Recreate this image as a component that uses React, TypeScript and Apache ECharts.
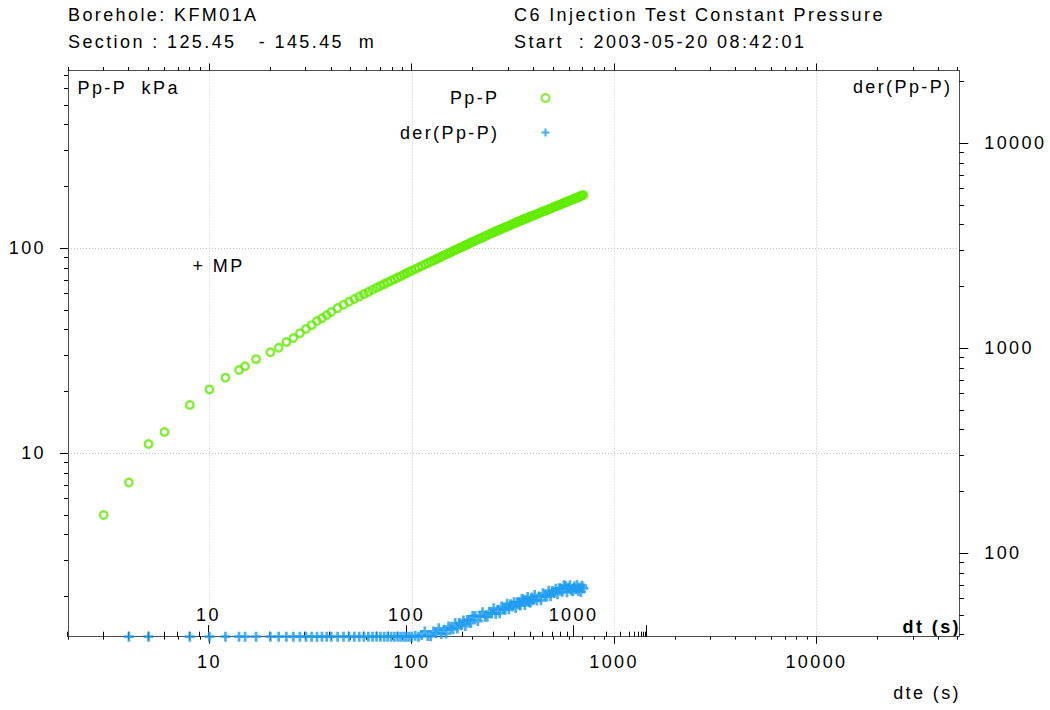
import React, { useEffect, useRef } from 'react';
import * as echarts from 'echarts';

const FONT = '"Liberation Sans", Arial, Helvetica, sans-serif';
const GREEN = '#62EC00';
const BLUE = '#1E9BF0';
const AXIS = '#505050';

// axis ranges
const X_MIN = 2;
const X_MAX = 50800;
const Y_MIN = 1.275;
const Y_MAX = 736.8;
const Y2_MIN = 39.2;
const Y2_MAX = 22660;
// production time used to map dt onto the dte axis
const TP = 1690;

// header texts
const headerLeft = ['Borehole: KFM01A', 'Section : 125.45   - 145.45  m'];
const headerRight = ['C6 Injection Test Constant Pressure', 'Start  : 2003-05-20 08:42:01'];

// Pp-P (kPa) versus dte (s)
const ppDte = [
  3, 4, 5, 6, 8, 10, 12, 14, 15, 17, 20, 22, 24, 26, 28, 30, 32, 34, 36, 38,
  40, 43, 46, 49, 52, 55, 58, 61, 64, 67, 70, 73, 76, 79, 82, 85, 88, 91, 94, 97, 100,
  104, 108, 112, 116, 120, 124, 128, 132, 136, 140, 144, 148, 152, 156, 160, 164, 168, 172, 176, 180, 184, 188, 192, 196, 200,
  206, 212, 218, 224, 230, 236, 242, 248, 254, 260, 266, 272, 278, 284, 290, 296, 302, 308, 314, 320, 326, 332, 338, 344, 350, 356, 362, 368, 374, 380, 386, 392, 398,
  405, 415, 425, 435, 445, 455, 465, 475, 485, 495, 505, 515, 525, 535, 545, 555, 565, 575, 585, 595, 605, 615, 625, 635, 645, 655, 665, 675, 685, 695, 705,
];
const ppVal = [
  5.0, 7.2, 11.1, 12.7, 17.2, 20.5, 23.4, 25.5, 26.6, 28.8, 31.1, 32.7, 34.9, 36.5, 38.5, 40.4, 42.2, 44.2, 45.6, 47.3,
  48.9, 51.1, 53.1, 54.9, 56.6, 58.2, 59.8, 61.3, 62.8, 64.2, 65.6, 66.9, 68.2, 69.5, 70.7, 71.9, 73.1, 74.3, 75.5, 76.6, 77.7,
  79.2, 80.6, 82.0, 83.4, 84.7, 86.0, 87.3, 88.6, 89.8, 91.1, 92.3, 93.5, 94.6, 95.8, 97.0, 98.1, 99.2, 100.3, 101.3, 102.4, 103.4, 104.5, 105.5, 106.5, 107.5,
  109.0, 110.4, 111.8, 113.2, 114.6, 115.9, 117.2, 118.4, 119.7, 120.9, 122.1, 123.3, 124.4, 125.6, 126.7, 127.8, 128.9, 130.0, 131.1, 132.2, 133.2, 134.3, 135.3, 136.3, 137.3, 138.2, 139.2, 140.1, 141.0, 141.9, 142.8, 143.7, 144.5,
  145.5, 146.9, 148.4, 149.8, 151.1, 152.5, 153.8, 155.1, 156.4, 157.7, 159.0, 160.3, 161.5, 162.8, 164.0, 165.2, 166.4, 167.6, 168.8, 169.9, 171.1, 172.2, 173.3, 174.4, 175.6, 176.7, 177.7, 178.8, 179.9, 181.0, 182.0,
];

// der(Pp-P) versus dte (s), right axis
const derDte = [
  4, 5, 8, 10, 12, 14, 15, 17, 20, 22, 24, 26, 28, 30, 32, 34, 36, 38,
  40, 43, 46, 49, 52, 55, 58, 61, 64, 67, 70, 73, 76, 79, 82, 85, 88, 91, 94, 97, 100,
  104, 108, 112, 116, 120, 124, 128, 132, 136, 140, 144, 148, 152, 156, 160, 164, 168, 172, 176, 180, 184, 188, 192, 196, 200,
  206, 212, 218, 224, 230, 236, 242, 248, 254, 260, 266, 272, 278, 284, 290, 296, 302, 308, 314, 320, 326, 332, 338, 344, 350, 356, 362, 368, 374, 380, 386, 392, 398,
  405, 415, 425, 435, 445, 455, 465, 475, 485, 495, 505, 515, 525, 535, 545, 555, 565, 575, 585, 595, 605, 615, 625, 635, 645, 655, 665, 675, 685, 695, 705,
];
const derVal = [
  39.2, 39.2, 39.2, 39.2, 39.2, 39.2, 39.2, 39.2, 39.2, 39.2, 39.2, 39.2, 39.2, 39.2, 39.2, 39.2, 39.2, 39.2,
  39.2, 39.2, 39.2, 39.2, 39.2, 39.2, 39.2, 39.2, 39.2, 39.2, 39.2, 39.2, 39.2, 39.2, 39.2, 39.2, 39.2, 39.2, 39.2, 39.2, 39.2,
  39.6, 39.2, 40.0, 41.6, 39.5, 39.4, 41.6, 40.7, 43.1, 40.4, 42.4, 40.6, 43.9, 43.0, 42.6, 45.7, 43.0, 45.7, 44.7, 47.0, 44.2, 47.3, 47.2, 45.7, 49.4,
  49.5, 46.7, 49.6, 51.6, 49.1, 49.0, 51.9, 50.9, 53.9, 50.6, 53.1, 51.0, 55.0, 53.8, 53.1, 56.8, 53.4, 56.5, 55.1, 57.8, 54.1, 57.8, 57.6, 55.6, 59.9, 59.6, 55.9, 59.1, 61.2, 57.8, 57.5, 60.8, 59.2,
  62.6, 58.8, 61.6, 59.0, 63.8, 62.3, 61.4, 65.7, 61.8, 65.5, 64.1, 67.2, 63.1, 67.5, 67.4, 65.0, 69.8, 69.2, 64.5, 68.0, 69.9, 66.0, 65.4, 68.8, 66.8, 70.0, 65.5, 68.2, 64.8, 69.5, 67.5,
];

// tick values
const dteTicks = [2, 3, 4, 5, 6, 7, 8, 9, 10, 20, 30, 40, 50, 60, 70, 80, 90, 100, 200, 300, 400, 500, 600, 700, 800, 900,
  1000, 2000, 3000, 4000, 5000, 6000, 7000, 8000, 9000, 10000, 20000, 30000, 40000, 50000];
const dtTicks = [2, 3, 4, 5, 6, 7, 8, 9, 10, 20, 30, 40, 50, 60, 70, 80, 90, 100, 200, 300, 400, 500, 600, 700, 800, 900,
  1000, 2000, 3000, 4000, 5000, 6000, 7000, 8000, 9000, 10000];
const dtLabels = [10, 100, 1000];
const leftTicks = [2, 3, 4, 5, 6, 7, 8, 9, 10, 20, 30, 40, 50, 60, 70, 80, 90, 100, 200, 300, 400, 500, 600, 700];
const rightTicks = [40, 50, 60, 70, 80, 90, 100, 200, 300, 400, 500, 600, 700, 800, 900, 1000,
  2000, 3000, 4000, 5000, 6000, 7000, 8000, 9000, 10000, 20000];

const isMajor = (v: number) => {
  const l = Math.log10(v);
  return Math.abs(l - Math.round(l)) < 1e-6;
};
const crisp = (p: number) => Math.round(p - 0.5) + 0.5;
const TICK_STYLE = { stroke: '#000', lineWidth: 1 };

const PLUS = 'path://M2.9,0H5.1V2.9H8V5.1H5.1V8H2.9V5.1H0V2.9H2.9Z';

function buildOption(): any {
  const ppData = ppDte.map((d, i) => [d, ppVal[i]]).filter((p) => p[1] != null);
  const derData = derDte.map((d, i) => [d, derVal[i]]).filter((p) => p[1] != null);

  const txt = (text: string, x: number, y: number, align = 'left', extra: any = {}) => ({
    type: 'text',
    x,
    y,
    silent: true,
    style: {
      text,
      fill: '#000',
      font: `${extra.bold ? 'bold ' : ''}18px ${FONT}`,
      align,
      textAlign: align,
      verticalAlign: 'middle',
      textVerticalAlign: 'middle',
    },
  });

  const logAxisBase = {
    type: 'log',
    logBase: 10,
    axisTick: { show: false },
    minorTick: { show: false },
    minorSplitLine: { show: false },
  };

  const labelStyle = {
    show: true,
    fontSize: 18,
    color: '#000',
    fontFamily: FONT,
    showMinLabel: false,
    showMaxLabel: false,
    formatter: (v: number) => String(Math.round(v)),
  };

  return {
    animation: false,
    backgroundColor: '#fff',
    textStyle: { fontFamily: FONT },
    grid: {
      left: 68,
      top: 70.5,
      width: 891.3,
      height: 566.2,
      containLabel: false,
      outerBoundsMode: 'none',
    },
    legend: {
      orient: 'vertical',
      align: 'right',
      right: 499.5,
      top: 89,
      padding: 0,
      itemGap: 16.5,
      itemWidth: 82,
      itemHeight: 8,
      selectedMode: false,
      data: ['Pp-P', 'der(Pp-P)'],
      textStyle: { fontSize: 18, color: '#000', fontFamily: FONT },
    },
    xAxis: [
      {
        ...logAxisBase,
        min: X_MIN,
        max: X_MAX,
        position: 'bottom',
        axisLine: { show: true, onZero: false, lineStyle: { color: AXIS, width: 1 } },
        axisLabel: { ...labelStyle, margin: 16 },
        splitLine: {
          show: true,
          showMinLine: false,
          showMaxLine: false,
          lineStyle: { color: '#c4c4c4', width: 1, type: [1, 2] },
        },
      },
      {
        ...logAxisBase,
        min: X_MIN,
        max: X_MAX,
        position: 'top',
        axisLine: { show: true, onZero: false, lineStyle: { color: AXIS, width: 1 } },
        axisLabel: { show: false },
        splitLine: { show: false },
      },
    ],
    yAxis: [
      {
        ...logAxisBase,
        min: Y_MIN,
        max: Y_MAX,
        position: 'left',
        axisLine: { show: true, onZero: false, lineStyle: { color: AXIS, width: 1 } },
        axisLabel: { ...labelStyle, margin: 22 },
        splitLine: {
          show: true,
          showMinLine: false,
          showMaxLine: false,
          lineStyle: { color: '#c4c4c4', width: 1, type: [1, 2] },
        },
      },
      {
        ...logAxisBase,
        min: Y2_MIN,
        max: Y2_MAX,
        position: 'right',
        axisLine: { show: true, onZero: false, lineStyle: { color: AXIS, width: 1 } },
        axisLabel: { ...labelStyle, margin: 25 },
        splitLine: { show: false },
      },
    ],
    graphic: [
      txt(headerLeft[0], 68, 15),
      txt(headerLeft[1], 68, 41.5),
      txt(headerRight[0], 514, 15),
      txt(headerRight[1], 514, 41.5),
      txt('Pp-P  kPa', 77.5, 88),
      txt('der(Pp-P)', 952.5, 87, 'right'),
      txt('+ MP', 192.5, 265.5),
      txt('dt (s)', 961, 626.5, 'right', { bold: true }),
      txt('dte (s)', 961, 693, 'right'),
    ],
    series: [
      // bottom dte ticks (outward)
      {
        type: 'custom',
        name: 'dteBottomTicks',
        xAxisIndex: 0,
        yAxisIndex: 0,
        silent: true,
        clip: false,
        z: 1,
        data: dteTicks.map((v) => [v, 10]),
        renderItem: (params: any, api: any) => {
          const cs = params.coordSys;
          const v = api.value(0);
          const x = crisp(api.coord([v, 10])[0]);
          const b = cs.y + cs.height;
          const len = isMajor(v) ? 7 : 3;
          return { type: 'line', shape: { x1: x, y1: b, x2: x, y2: b + len }, style: TICK_STYLE };
        },
      },
      // top dte ticks (outward)
      {
        type: 'custom',
        name: 'dteTopTicks',
        xAxisIndex: 0,
        yAxisIndex: 0,
        silent: true,
        clip: false,
        z: 1,
        data: dteTicks.map((v) => [v, 10]),
        renderItem: (params: any, api: any) => {
          const cs = params.coordSys;
          const v = api.value(0);
          const x = crisp(api.coord([v, 10])[0]);
          const t = cs.y;
          const len = isMajor(v) ? 7 : 3.5;
          return { type: 'line', shape: { x1: x, y1: t, x2: x, y2: t - len }, style: TICK_STYLE };
        },
      },
      // dt axis ticks (inward) with labels
      {
        type: 'custom',
        name: 'dtTicks',
        xAxisIndex: 0,
        yAxisIndex: 0,
        silent: true,
        clip: false,
        z: 1,
        data: dtTicks.map((v) => [v, 10]),
        renderItem: (params: any, api: any) => {
          const cs = params.coordSys;
          const dt = api.value(0);
          const dte = (dt * TP) / (dt + TP);
          const x = crisp(api.coord([dte, 10])[0]);
          const b = cs.y + cs.height;
          const len = isMajor(dt) ? 11.5 : 5;
          const children: any[] = [
            { type: 'line', shape: { x1: x, y1: b, x2: x, y2: b - len }, style: TICK_STYLE },
          ];
          if (dtLabels.indexOf(Math.round(dt)) >= 0) {
            children.push({
              type: 'text',
              x,
              y: b - 22,
              style: {
                text: String(Math.round(dt)),
                fill: '#000',
                font: `18px ${FONT}`,
                align: 'center',
                verticalAlign: 'middle',
              },
            });
          }
          return { type: 'group', children };
        },
      },
      // left axis ticks (outward)
      {
        type: 'custom',
        name: 'leftTicks',
        xAxisIndex: 0,
        yAxisIndex: 0,
        silent: true,
        clip: false,
        z: 1,
        data: leftTicks.map((v) => [10, v]),
        renderItem: (params: any, api: any) => {
          const cs = params.coordSys;
          const v = api.value(1);
          const y = crisp(api.coord([10, v])[1]);
          const l = cs.x;
          const len = isMajor(v) ? 8 : 4;
          return { type: 'line', shape: { x1: l, y1: y, x2: l - len, y2: y }, style: TICK_STYLE };
        },
      },
      // right axis ticks (outward)
      {
        type: 'custom',
        name: 'rightTicks',
        xAxisIndex: 0,
        yAxisIndex: 1,
        silent: true,
        clip: false,
        z: 1,
        data: rightTicks.map((v) => [10, v]),
        renderItem: (params: any, api: any) => {
          const cs = params.coordSys;
          const v = api.value(1);
          const y = crisp(api.coord([10, v])[1]);
          const r = cs.x + cs.width;
          const len = isMajor(v) ? 9 : 4.5;
          return { type: 'line', shape: { x1: r, y1: y, x2: r + len, y2: y }, style: TICK_STYLE };
        },
      },
      {
        name: 'Pp-P',
        type: 'scatter',
        xAxisIndex: 0,
        yAxisIndex: 0,
        data: ppData,
        symbol: 'circle',
        symbolSize: 7.5,
        clip: false,
        silent: true,
        z: 3,
        itemStyle: { color: 'rgba(255,255,255,0)', borderColor: GREEN, borderWidth: 2.4 },
      },
      {
        name: 'der(Pp-P)',
        type: 'scatter',
        xAxisIndex: 0,
        yAxisIndex: 1,
        data: derData,
        symbol: PLUS,
        symbolSize: 10,
        clip: false,
        silent: true,
        z: 4,
        itemStyle: { color: BLUE },
      },
    ],
  };
}

export default function App() {
  const ref = useRef<HTMLDivElement>(null);
  useEffect(() => {
    if (!ref.current) return;
    const chart = echarts.init(ref.current, null, { renderer: 'svg' });
    chart.setOption(buildOption());
    return () => {
      chart.dispose();
    };
  }, []);
  return (
    <div
      ref={ref}
      style={{
        position: 'fixed',
        left: 0,
        top: 0,
        width: 1050,
        height: 710,
        background: '#fff',
        letterSpacing: '2.4px',
        whiteSpace: 'pre',
      }}
    />
  );
}
